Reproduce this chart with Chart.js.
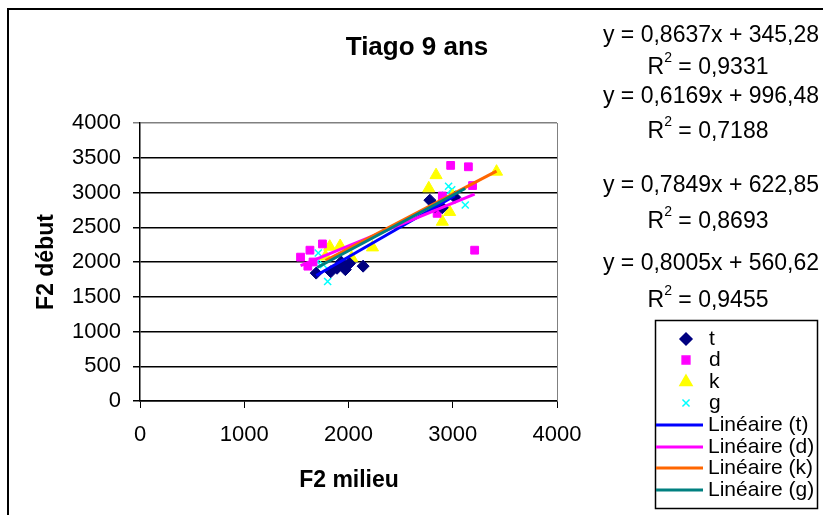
<!DOCTYPE html>
<html>
<head>
<meta charset="utf-8">
<script src="https://cdn.jsdelivr.net/npm/chart.js@4"></script>
<style>
  html, body { margin: 0; padding: 0; background: #fff; }
  #wrap { width: 823px; height: 515px; position: relative; }
</style>
</head>
<body>
<div id="wrap"><canvas id="chart" width="823" height="515"></canvas></div>
<script>
// Data (F2 milieu, F2 début)
const tX = [1690, 1830, 1890, 1930, 1970, 2010, 2140, 2780, 2830, 2900, 3020];
const tY = [1840, 1860, 1910, 2000, 1890, 1980, 1940, 2890, 2800, 2780, 2930];
const dX = [1540, 1610, 1630, 1660, 1750, 2850, 2900, 2980, 3150, 3190, 3210];
const dY = [2070, 1940, 2170, 2000, 2260, 2700, 2950, 3390, 3370, 3100, 2170];
const kX = [1780, 1820, 1920, 2030, 2230, 2770, 2840, 2900, 2970, 3000, 3420];
const kY = [2080, 2220, 2230, 2060, 2210, 3060, 3250, 2580, 2720, 2950, 3300];
const gX = [1700, 1710, 1760, 1800, 2930, 2960, 2990, 3000, 3120];
const gY = [2000, 2130, 1960, 1720, 2960, 3090, 3040, 2980, 2820];

const seriesNames = ['t', 'd', 'k', 'g'];
const slopes = [0.8637, 0.6169, 0.7849, 0.8005];
const intercepts = [345.28, 996.48, 622.85, 560.62];
const r2 = ['0,9331', '0,7188', '0,8693', '0,9455'];

const xTicks = [0, 1000, 2000, 3000, 4000];
const yTicks = [0, 500, 1000, 1500, 2000, 2500, 3000, 3500, 4000];

const markerColors = ['#000080', '#FF00FF', '#FFFF00', '#00FFFF'];
const markerStyles = ['rectRot', 'rect', 'triangle', 'crossRot'];
const markerRadius = [6, 5.5, 7, 5];
const lineColors = ['#0000FF', '#FF00FF', '#FF6600', '#008080'];

const xs = [tX, dX, kX, gX];
const ys = [tY, dY, kY, gY];

const fmt = v => v.toFixed(4).replace('.', ',');
const fmt2 = v => v.toFixed(2).replace('.', ',');

const datasets = [];
// trend lines first so they sit on top of the markers
seriesNames.forEach((n, i) => {
    const x0 = Math.min(...xs[i]);
    const x1 = Math.max(...xs[i]);
    datasets.push({
        label: 'Linéaire (' + n + ')',
        type: 'line',
        data: [
            { x: x0, y: slopes[i] * x0 + intercepts[i] },
            { x: x1, y: slopes[i] * x1 + intercepts[i] }
        ],
        borderColor: lineColors[i],
        borderWidth: 3,
        pointRadius: 0,
        fill: false,
        order: 3 - i
    });
});
seriesNames.forEach((n, i) => {
    datasets.push({
        label: n,
        data: xs[i].map((x, j) => ({ x: x, y: ys[i][j] })),
        pointStyle: markerStyles[i],
        pointRadius: markerRadius[i],
        backgroundColor: markerColors[i],
        borderColor: markerColors[i],
        borderWidth: i === 3 ? 1.5 : 1,
        showLine: false,
        order: 10 + i
    });
});

const FONT = '"Liberation Sans", Arial, sans-serif';

function legendMarker(ctx, i, x, y) {
    ctx.save();
    ctx.fillStyle = markerColors[i];
    ctx.strokeStyle = markerColors[i];
    Chart.helpers.drawPoint(ctx, {
        pointStyle: markerStyles[i],
        radius: markerRadius[i],
        rotation: 0,
        borderWidth: i === 3 ? 1.5 : 1
    }, x, y);
    ctx.restore();
}

const overlay = {
    id: 'overlay',
    beforeDatasetsDraw(chart) {
        const { ctx, chartArea: a } = chart;
        ctx.save();
        ctx.strokeStyle = '#808080';
        ctx.lineWidth = 1;
        ctx.beginPath();
        ctx.moveTo(a.right + 0.5, a.top);
        ctx.lineTo(a.right + 0.5, a.bottom);
        ctx.stroke();
        ctx.restore();
    },
    afterDraw(chart) {
        const { ctx } = chart;
        ctx.save();
        // outer frame
        ctx.strokeStyle = '#000';
        ctx.lineWidth = 2;
        ctx.beginPath();
        ctx.moveTo(8, 530);
        ctx.lineTo(8, 9);
        ctx.lineTo(830, 9);
        ctx.stroke();

        // title
        ctx.fillStyle = '#000';
        ctx.textAlign = 'center';
        ctx.textBaseline = 'middle';
        ctx.font = 'bold 26px ' + FONT;
        ctx.fillText('Tiago 9 ans', 417, 48);

        // axis titles
        ctx.font = 'bold 23px ' + FONT;
        ctx.fillText('F2 milieu', 349, 481);
        ctx.save();
        ctx.translate(47, 262);
        ctx.rotate(-Math.PI / 2);
        ctx.fillText('F2 début', 0, 0);
        ctx.restore();

        // trend line equations
        const eqY = [36, 97, 186, 264];
        const rY = [68, 132, 222, 301];
        seriesNames.forEach((n, i) => {
            ctx.font = '23px ' + FONT;
            ctx.textAlign = 'center';
            ctx.fillText('y = ' + fmt(slopes[i]) + 'x + ' + fmt2(intercepts[i]), 711, eqY[i]);
            const tail = ' = ' + r2[i];
            const wR = ctx.measureText('R').width;
            const wT = ctx.measureText(tail).width;
            ctx.font = '14px ' + FONT;
            const w2 = ctx.measureText('2').width;
            const x = 708 - (wR + w2 + wT) / 2;
            ctx.textAlign = 'left';
            ctx.fillText('2', x + wR, rY[i] - 10);
            ctx.font = '23px ' + FONT;
            ctx.fillText('R', x, rY[i]);
            ctx.fillText(tail, x + wR + w2, rY[i]);
        });

        // legend
        ctx.strokeStyle = '#000';
        ctx.lineWidth = 1.5;
        ctx.strokeRect(655.5, 320.5, 162, 188);
        const rows = [339, 360, 382, 403];
        const lrows = [425, 447, 468, 490];
        ctx.font = '21px ' + FONT;
        ctx.textAlign = 'left';
        seriesNames.forEach((n, i) => {
            legendMarker(ctx, i, 686, rows[i]);
            ctx.fillStyle = '#000';
            ctx.fillText(n, 709, rows[i]);
        });
        seriesNames.forEach((n, i) => {
            ctx.strokeStyle = lineColors[i];
            ctx.lineWidth = 3;
            ctx.beginPath();
            ctx.moveTo(656, lrows[i]);
            ctx.lineTo(703, lrows[i]);
            ctx.stroke();
            ctx.fillStyle = '#000';
            ctx.fillText('Linéaire (' + n + ')', 708, lrows[i]);
        });
        ctx.restore();
    }
};

new Chart(document.getElementById('chart'), {
    type: 'scatter',
    data: { datasets: datasets },
    options: {
        responsive: false,
        animation: false,
        layout: { padding: { left: 0, top: 123, right: 266, bottom: 0 } },
        plugins: {
            legend: { display: false },
            tooltip: { enabled: false }
        },
        scales: {
            x: {
                type: 'linear',
                min: 0,
                max: 4000,
                afterBuildTicks: s => { s.ticks = xTicks.map(v => ({ value: v })); },
                afterFit: s => { s.height = 114; },
                grid: { drawOnChartArea: false, color: '#000', tickLength: 7 },
                border: { color: '#000', width: 1.5 },
                ticks: {
                    color: '#000',
                    font: { family: FONT, size: 22 },
                    padding: 14,
                    maxRotation: 0,
                    callback: v => String(v)
                }
            },
            y: {
                type: 'linear',
                min: 0,
                max: 4000,
                afterBuildTicks: s => { s.ticks = yTicks.map(v => ({ value: v })); },
                afterFit: s => { s.width = 140; },
                grid: {
                    color: ctx => ctx.tick && ctx.tick.value === 4000 ? '#808080' : '#000',
                    lineWidth: 1.5,
                    tickLength: 7
                },
                border: { color: '#000', width: 1.5 },
                ticks: {
                    color: '#000',
                    font: { family: FONT, size: 22 },
                    padding: 12,
                    callback: v => String(v)
                }
            }
        }
    },
    plugins: [overlay]
});
</script>
</body>
</html>
